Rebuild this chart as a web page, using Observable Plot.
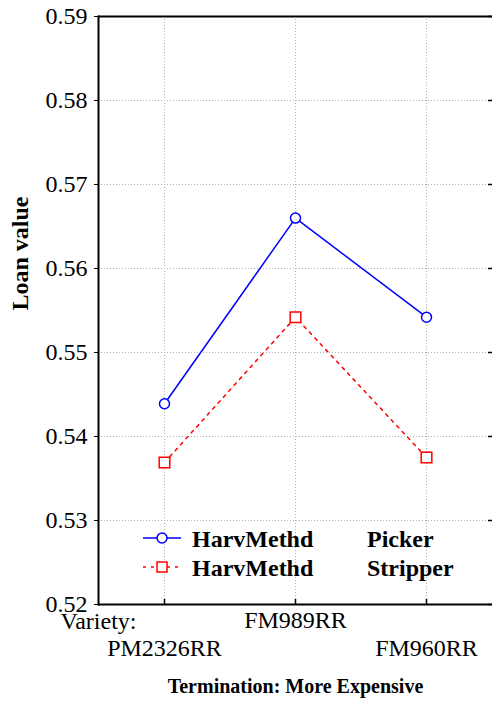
<!DOCTYPE html>
<html><head><meta charset="utf-8">
<script src="https://cdn.jsdelivr.net/npm/d3@7"></script>
<script src="https://cdn.jsdelivr.net/npm/@observablehq/plot@0.6"></script>
<style>body{margin:0;background:#fff;} svg, svg text{font-family:"Liberation Serif","Times New Roman",serif !important;}</style>
</head><body><div id="chart"></div>
<script>
const categories = ["PM2326RR", "FM989RR", "FM960RR"];
const seriesNames = ["Picker", "Stripper"];
const picker = [0.5439, 0.5660, 0.5542];
const stripper = [0.5369, 0.5542, 0.5375];
const yTicks = [0.52, 0.53, 0.54, 0.55, 0.56, 0.57, 0.58, 0.59];
const factorLabel = "HarvMethd";
const xPrefix = "Variety:";
const yLabel = "Loan value";
const xTitle = "Termination: More Expensive";

const colors = {Picker: "#0000ff", Stripper: "#ff0000"};
const dashes = {Picker: null, Stripper: "3,5"};
const data = [];
categories.forEach((c, i) => {
  data.push({variety: c, value: picker[i], method: "Picker"});
  data.push({variety: c, value: stripper[i], method: "Stripper"});
});
const pick = data.filter(d => d.method === "Picker");
const strip = data.filter(d => d.method === "Stripper");
const innerH = 708 - 16 - 104;
const innerW = 492 - 98;
const ff = "Liberation Serif";

const chart = Plot.plot({
  width: 492, height: 708,
  marginTop: 16, marginBottom: 104, marginLeft: 98, marginRight: 0,
  style: {fontFamily: ff, fontSize: "24px", background: "#fff"},
  x: {type: "point", domain: categories, padding: 0.5, axis: null},
  y: {domain: [0.52, 0.59], axis: null},
  marks: [
    Plot.gridY(yTicks.slice(1, -1), {stroke: "#b0b0b0", strokeOpacity: 1, strokeDasharray: "1,2"}),
    Plot.gridX(categories, {stroke: "#b0b0b0", strokeOpacity: 1, strokeDasharray: "1,2"}),
    Plot.ruleY([0.52, 0.59], {stroke: "#000", strokeWidth: 2}),
    Plot.frame({anchor: "left", stroke: "#000", strokeWidth: 2}),
    Plot.axisY(yTicks, {anchor: "left", tickSize: 4, tickPadding: 7, tickFormat: d => d.toFixed(2), fontSize: 24, fontFamily: ff, fill: "#000", stroke: "#000", label: null}),
    Plot.tickY(yTicks, {y: d => d, insetLeft: innerW - 4, stroke: "#000", strokeWidth: 1.5}),
    Plot.tickX(categories, {x: d => d, insetTop: innerH - 5, stroke: "#000", strokeWidth: 1.5}),
    Plot.text(categories.filter((d, i) => i % 2 === 1), {x: d => d, frameAnchor: "bottom", dy: 23, fontSize: 24, fontFamily: ff}),
    Plot.text(categories.filter((d, i) => i % 2 === 0), {x: d => d, frameAnchor: "bottom", dy: 51, fontSize: 24, fontFamily: ff}),
    Plot.text([xPrefix], {frameAnchor: "bottom-left", dy: 24, textAnchor: "middle", fontSize: 24, fontFamily: ff}),
    Plot.text([yLabel], {frameAnchor: "left", rotate: -90, dx: -78, fontSize: 24, fontWeight: "bold", fontFamily: ff}),
    Plot.text([xTitle], {frameAnchor: "bottom", dy: 88, fontSize: 20, fontWeight: "bold", fontFamily: ff}),
    Plot.line(pick, {x: "variety", y: "value", stroke: colors.Picker, strokeWidth: 1.5}),
    Plot.line(strip, {x: "variety", y: "value", stroke: colors.Stripper, strokeWidth: 1.5, strokeDasharray: dashes.Stripper}),
    Plot.dot(pick, {x: "variety", y: "value", r: 5, stroke: colors.Picker, fill: "#fff", strokeWidth: 1.5}),
    Plot.dot(strip, {x: "variety", y: "value", r: 6, symbol: "square", stroke: colors.Stripper, fill: "#fff", strokeWidth: 1.5})
  ]
});

// legend inside the plot area
const svg = d3.select(chart);
const leg = svg.append("g").attr("class", "legend").attr("text-anchor", "start");
seriesNames.forEach((name, i) => {
  const yc = 538 + i * 29;
  const g = leg.append("g");
  g.append("line").attr("x1", 143).attr("x2", 181).attr("y1", yc).attr("y2", yc)
    .attr("stroke", colors[name]).attr("stroke-width", 1.5)
    .attr("stroke-dasharray", dashes[name]);
  if (name === "Picker") {
    g.append("circle").attr("cx", 162).attr("cy", yc).attr("r", 5)
      .attr("fill", "#fff").attr("stroke", colors[name]).attr("stroke-width", 1.5);
  } else {
    g.append("rect").attr("x", 157).attr("y", yc - 5).attr("width", 10).attr("height", 10)
      .attr("fill", "#fff").attr("stroke", colors[name]).attr("stroke-width", 1.5);
  }
  g.append("text").attr("x", 192).attr("y", yc + 9).attr("text-anchor", "start").attr("font-size", 24).attr("font-weight", "bold").attr("font-family", ff).text(factorLabel);
  g.append("text").attr("x", 367).attr("y", yc + 9).attr("text-anchor", "start").attr("font-size", 24).attr("font-weight", "bold").attr("font-family", ff).text(name);
});
document.getElementById("chart").appendChild(chart);
</script></body></html>
